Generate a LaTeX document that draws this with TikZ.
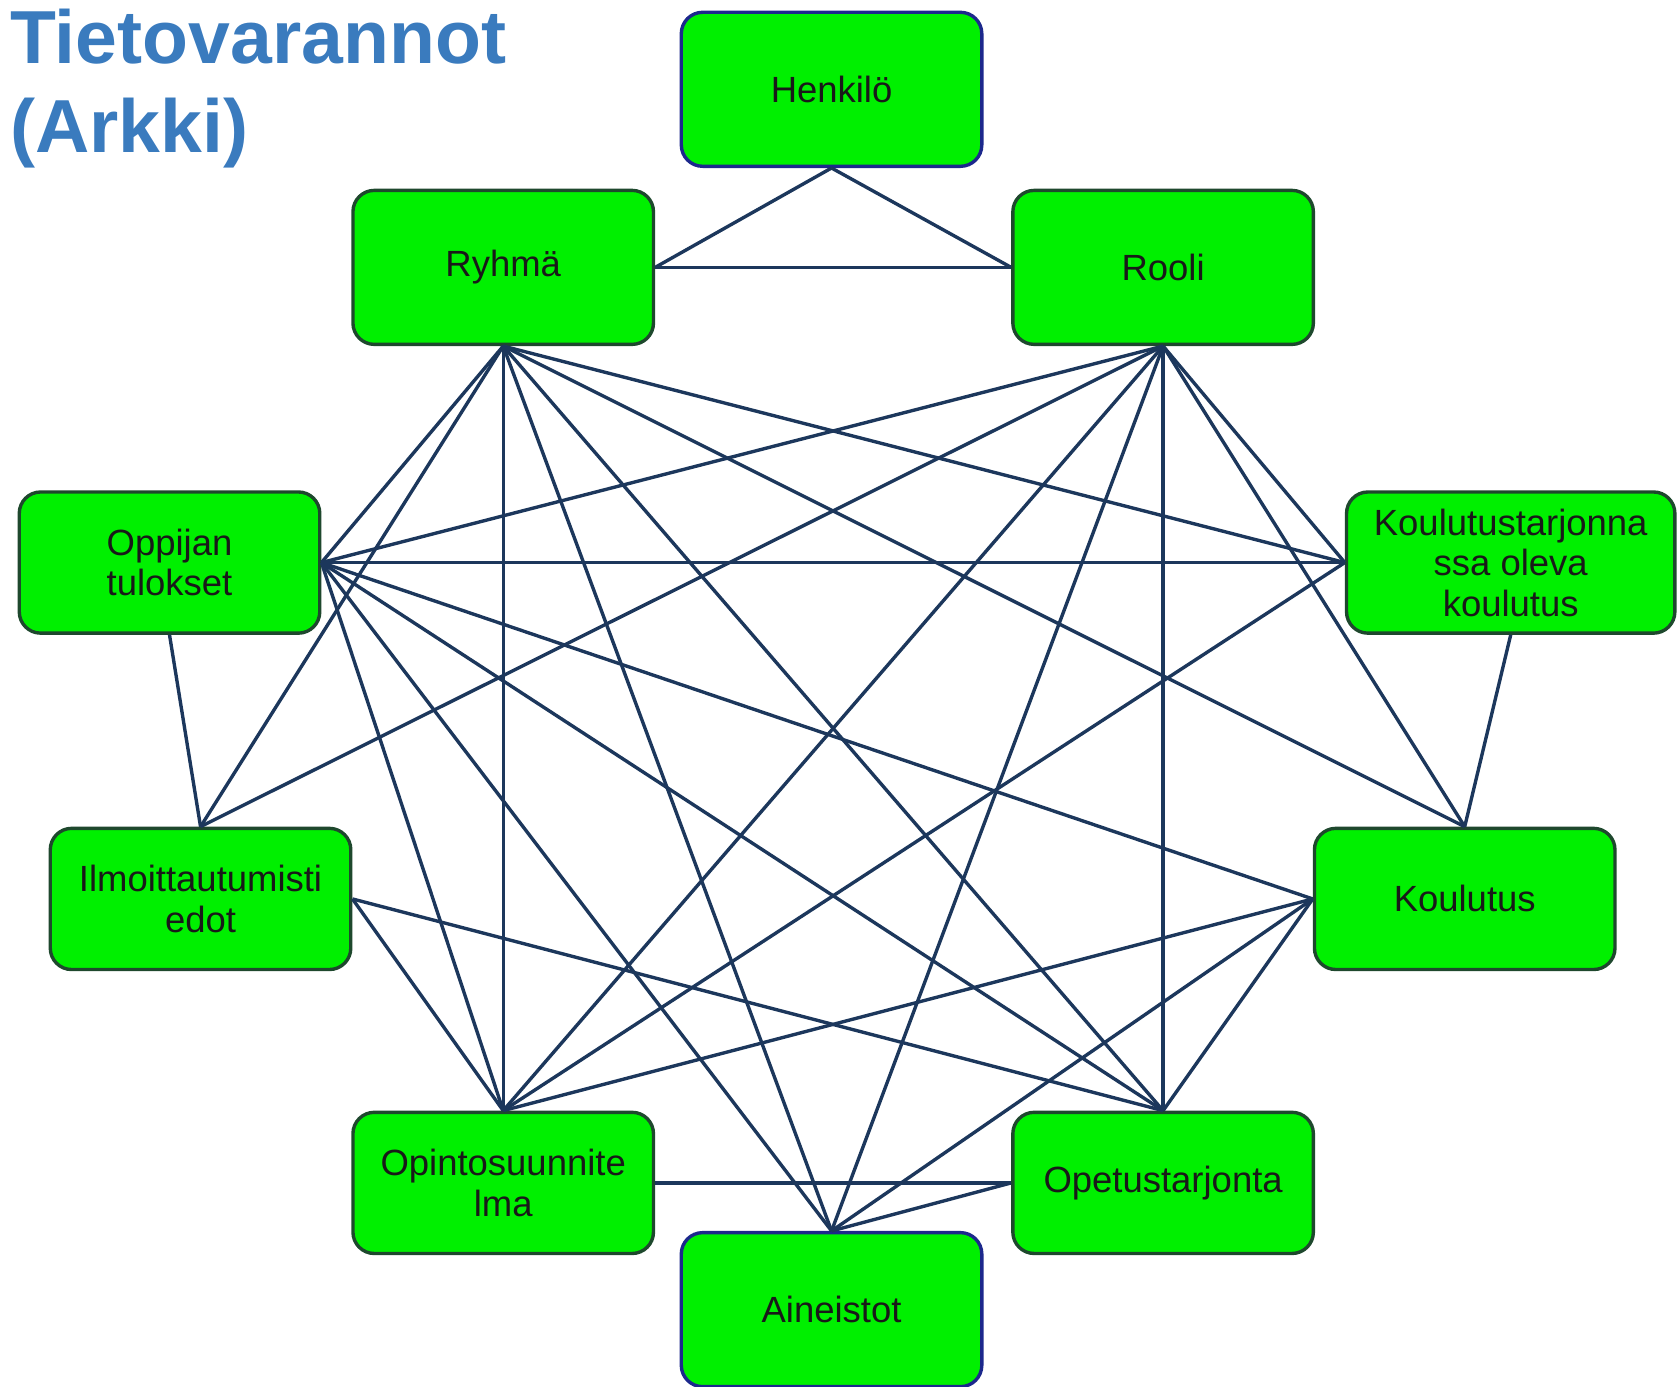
\documentclass[tikz,border=0pt]{standalone}
\usepackage{fontspec}
\setmainfont{Liberation Sans}
\usepackage{tikz}

\definecolor{boxgreen}{RGB}{0,240,0}
\definecolor{boxedge}{RGB}{30,72,45}
\definecolor{boxblue}{RGB}{28,40,140}
\definecolor{linkblue}{RGB}{28,55,92}
\definecolor{titleblue}{RGB}{58,123,190}

\begin{document}
\begin{tikzpicture}[
    box/.style={draw=boxedge, line width=0.9pt, fill=boxgreen, rounded corners=0.2cm,
      minimum width=2.81cm, minimum height=1.32cm, align=center, inner sep=2pt,
      text=black!90, font=\fontsize{9.7}{10.8}\selectfont},
    tallbox/.style={box, minimum height=1.44cm},
    bluebox/.style={tallbox, draw=boxblue},
    link/.style={draw=linkblue, line width=0.9pt}
  ]
  \useasboundingbox (0,0) rectangle (15.68,-12.96);
  \node[anchor=north west, inner sep=0pt, align=left, text=titleblue,
    font=\fontsize{20}{23.5}\selectfont\bfseries] (title) at (0.09,-0.08) {Tietovarannot\\(Arkki)};

  \node[bluebox] (henkilo) at (7.775,-0.835) {Henkilö};
  \node[tallbox] (ryhma) at (4.705,-2.50) {Ryhmä};
  \node[tallbox] (rooli) at (10.875,-2.50) {Rooli};
  \node[box] (oppijan) at (1.585,-5.26) {Oppijan\\tulokset};
  \node[box, minimum width=3.07cm] (ktarjonta) at (14.125,-5.26) {Koulutustarjonna\\ssa oleva\\koulutus};
  \node[box] (ilmo) at (1.875,-8.405) {Ilmoittautumisti\\edot};
  \node[box] (koulutus) at (13.695,-8.405) {Koulutus};
  \node[box] (opsu) at (4.705,-11.06) {Opintosuunnite\\lma};
  \node[box] (opetus) at (10.875,-11.06) {Opetustarjonta};
  \node[bluebox] (aineistot) at (7.775,-12.245) {Aineistot};

  \draw[link] (henkilo.south) -- (ryhma.east);
  \draw[link] (henkilo.south) -- (rooli.west);
  \draw[link] (ryhma.east) -- (rooli.west);

  \draw[link] (ryhma.south) -- (oppijan.east);
  \draw[link] (ryhma.south) -- (ilmo.north);
  \draw[link] (ryhma.south) -- (opsu.north);
  \draw[link] (ryhma.south) -- (aineistot.north);
  \draw[link] (ryhma.south) -- (opetus.north);
  \draw[link] (ryhma.south) -- (koulutus.north);
  \draw[link] (ryhma.south) -- (ktarjonta.west);

  \draw[link] (rooli.south) -- (oppijan.east);
  \draw[link] (rooli.south) -- (ilmo.north);
  \draw[link] (rooli.south) -- (opsu.north);
  \draw[link] (rooli.south) -- (aineistot.north);
  \draw[link] (rooli.south) -- (opetus.north);
  \draw[link] (rooli.south) -- (koulutus.north);
  \draw[link] (rooli.south) -- (ktarjonta.west);

  \draw[link] (oppijan.east) -- (ktarjonta.west);
  \draw[link] (oppijan.east) -- (koulutus.west);
  \draw[link] (oppijan.east) -- (opetus.north);
  \draw[link] (oppijan.east) -- (aineistot.north);
  \draw[link] (oppijan.east) -- (opsu.north);
  \draw[link] (oppijan.south) -- (ilmo.north);

  \draw[link] (ilmo.east) -- (opsu.north);
  \draw[link] (ilmo.east) -- (opetus.north);

  \draw[link] (ktarjonta.south) -- (koulutus.north);
  \draw[link] (ktarjonta.west) -- (opsu.north);

  \draw[link] (koulutus.west) -- (opsu.north);
  \draw[link] (koulutus.west) -- (aineistot.north);
  \draw[link] (koulutus.west) -- (opetus.north);

  \draw[link] (opsu.east) -- (opetus.west);
  \draw[link] (aineistot.north) -- (opetus.west);
\end{tikzpicture}
\end{document}
